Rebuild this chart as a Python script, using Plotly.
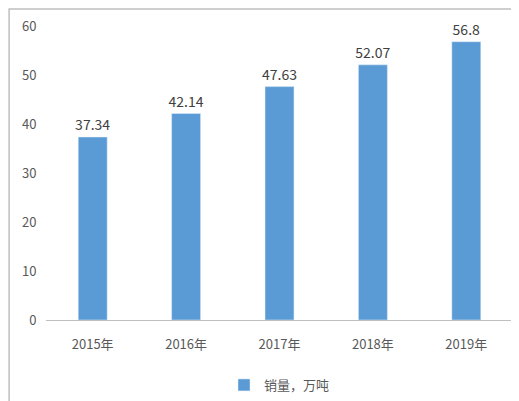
import plotly.graph_objects as go

years = ["2015年", "2016年", "2017年", "2018年", "2019年"]
sales = [37.34, 42.14, 47.63, 52.07, 56.8]
labels = ["37.34", "42.14", "47.63", "52.07", "56.8"]

fig = go.Figure(go.Bar(
    x=years, y=sales, name="销量，万吨", text=labels, textposition="outside",
    marker_color="#5B9BD5", width=0.31, cliponaxis=False,
    textfont=dict(size=14, color="#404040")))

fig.update_layout(
    width=519, height=401, margin=dict(l=38, r=14, t=18, b=89, autoexpand=False),
    plot_bgcolor="white", paper_bgcolor="white",
    uniformtext=dict(minsize=14, mode="show"),
    font=dict(family="Noto Sans CJK SC, Noto Sans", size=13, color="#595959"),
    yaxis=dict(range=[0, 60], dtick=10, showgrid=False, zeroline=False, automargin=False,
               ticks="outside", ticklen=6, tickcolor="white", tickfont=dict(size=13)),
    xaxis=dict(showline=True, linecolor="#bfbfbf", automargin=False,
               ticks="outside", ticklen=12, tickcolor="white", tickfont=dict(size=13)),
    showlegend=True,
    legend=dict(orientation="h", x=0.5, xanchor="center", y=-0.17, yanchor="top",
                font=dict(size=13)),
    bargap=0.69,
    shapes=[dict(type="rect", xref="paper", yref="paper", x0=-0.079, x1=1.0257,
                 y0=-0.2925, y1=1.058, line=dict(color="#bfbfbf", width=1.5))]
)
fig.write_html("out.html")
